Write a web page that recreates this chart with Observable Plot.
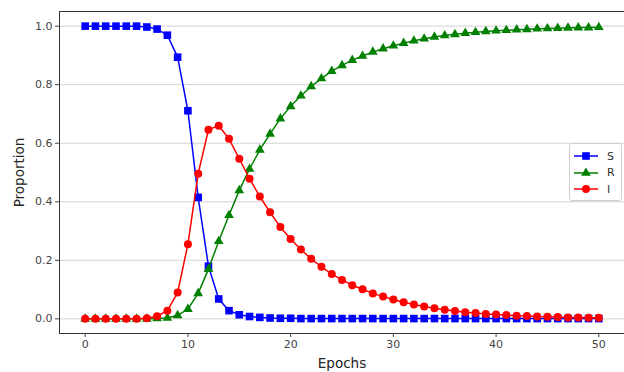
<!DOCTYPE html>
<html>
<head>
<meta charset="utf-8">
<script src="https://cdn.jsdelivr.net/npm/d3@7"></script>
<script src="https://cdn.jsdelivr.net/npm/@observablehq/plot@0.6"></script>
<style>
  html, body { margin: 0; padding: 0; background: #fff; }
  #wrap { position: relative; width: 624px; height: 372px; font-family: "DejaVu Sans", sans-serif; }
  #legend { position: absolute; left: 569px; top: 143px; width: 53px; height: 58px; border: 1px solid #d0d0d0; border-radius: 3px; background: rgba(255,255,255,0.85); box-sizing: border-box; }
  #legend .row { position: absolute; left: 3px; height: 14px; display: flex; align-items: center; font-size: 11px; color: #333; }
  #legend .row span { margin-left: 8px; }
</style>
</head>
<body>
<div id="wrap"><div id="chart"></div><div id="legend"></div></div>
<script>
const epochs = [0,1,2,3,4,5,6,7,8,9,10,11,12,13,14,15,16,17,18,19,20,21,22,23,24,25,26,27,28,29,30,31,32,33,34,35,36,37,38,39,40,41,42,43,44,45,46,47,48,49,50];
const seriesNames = ["S", "R", "I"];
const seriesColors = ["#0000ff", "#008000", "#ff0000"];
const seriesSymbols = ["square", "triangle", "circle"];
const S = [1.0,1.0,1.0,1.0,1.0,1.0,0.997,0.99,0.969,0.894,0.711,0.415,0.180,0.068,0.028,0.014,0.008,0.005,0.003,0.002,0.002,0.001,0.001,0.001,0.001,0.001,0.001,0.001,0.001,0.001,0.001,0.001,0.001,0.001,0.001,0.001,0.001,0.001,0.001,0.001,0.001,0.001,0.001,0.001,0.001,0.001,0.001,0.001,0.001,0.001,0.001];
const R = [0,0,0,0,0,0,0,0.001,0.003,0.012,0.033,0.087,0.170,0.265,0.354,0.439,0.512,0.577,0.632,0.684,0.726,0.762,0.794,0.821,0.846,0.866,0.884,0.898,0.912,0.923,0.933,0.942,0.950,0.957,0.963,0.968,0.972,0.976,0.979,0.982,0.984,0.986,0.988,0.989,0.991,0.992,0.993,0.994,0.995,0.995,0.996];
const I = [0,0,0,0,0,0,0.002,0.009,0.028,0.090,0.255,0.496,0.646,0.660,0.615,0.547,0.479,0.418,0.364,0.314,0.273,0.237,0.205,0.178,0.153,0.133,0.115,0.101,0.087,0.076,0.066,0.057,0.049,0.042,0.036,0.031,0.027,0.023,0.020,0.017,0.015,0.013,0.011,0.010,0.008,0.007,0.006,0.005,0.0045,0.004,0.0035];
const xTicks = [0,10,20,30,40,50];
const yTicks = [0,0.2,0.4,0.6,0.8,1.0];

const seriesValues = [S, R, I];
const marks = [
  Plot.gridY(yTicks, {stroke: "#b0b0b0", strokeOpacity: 0.7, strokeWidth: 0.8}),
  Plot.frame({stroke: "#333", strokeWidth: 1})
];
const symbolR = {square: 4.3, triangle: 3.6, circle: 4};
seriesNames.forEach((name, k) => {
  const data = epochs.map((e, i) => ({epoch: e, value: seriesValues[k][i]}));
  marks.push(Plot.line(data, {x: "epoch", y: "value", stroke: seriesColors[k], strokeWidth: 1.5}));
  marks.push(Plot.dot(data, {x: "epoch", y: "value", fill: seriesColors[k], stroke: "none", symbol: seriesSymbols[k], r: symbolR[seriesSymbols[k]]}));
});
marks.push(Plot.axisX({ticks: xTicks, tickSize: 4, tickPadding: 3, label: "Epochs", labelAnchor: "center", labelArrow: "none", labelOffset: 34, fontSize: 11}));
marks.push(Plot.axisY({ticks: yTicks, tickFormat: d3.format(".1f"), tickSize: 4, tickPadding: 3, label: "Proportion", labelAnchor: "center", labelArrow: "none", labelOffset: 45, fontSize: 11}));

const chart = Plot.plot({
  width: 624,
  height: 372,
  marginLeft: 59,
  marginRight: 0,
  marginTop: 11,
  marginBottom: 39,
  style: {fontFamily: "DejaVu Sans, sans-serif", fontSize: "11px", color: "#444", background: "#fff"},
  x: {domain: [-2.5, 52.5]},
  y: {domain: [-0.05, 1.05]},
  marks
});
chart.querySelectorAll("g[aria-label='x-axis label'] text, g[aria-label='y-axis label'] text").forEach(t => {
  t.setAttribute("font-size", "13.5");
  t.style.fontSize = "13.5px";
  t.setAttribute("fill", "#222");
});
document.getElementById("chart").appendChild(chart);

const legend = document.getElementById("legend");
const legendSymbols = [d3.symbolSquare, d3.symbolTriangle, d3.symbolCircle];
const legendR = [4.3, 3.6, 4];
seriesNames.forEach((name, k) => {
  const row = document.createElement("div");
  row.className = "row";
  row.style.top = (5 + k * 16.5) + "px";
  const sym = d3.symbol(legendSymbols[k], Math.PI * legendR[k] * legendR[k])();
  row.innerHTML = `<svg width="26" height="12"><line x1="1" x2="25" y1="6" y2="6" stroke="${seriesColors[k]}" stroke-width="1.5"/><path d="${sym}" transform="translate(13,6)" fill="${seriesColors[k]}"/></svg><span>${name}</span>`;
  legend.appendChild(row);
});
</script>
</body>
</html>
